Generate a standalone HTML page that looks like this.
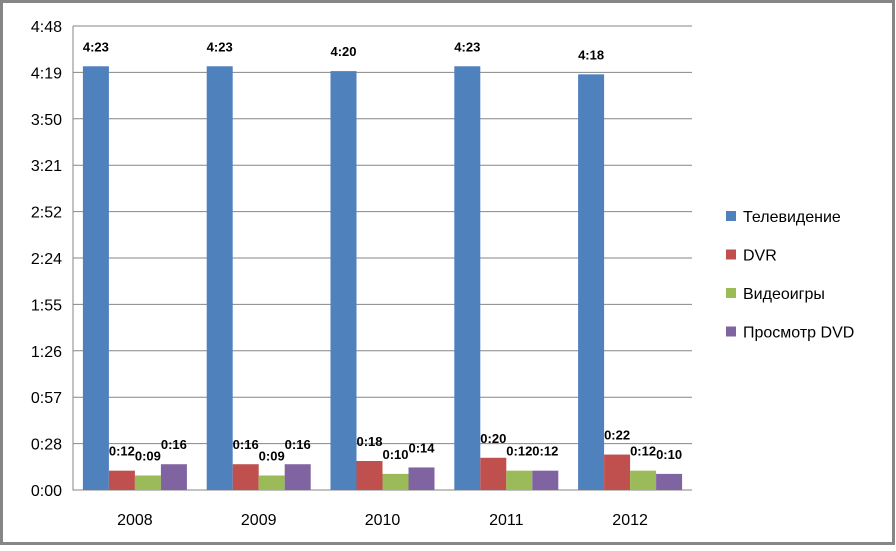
<!DOCTYPE html>
<html><head><meta charset="utf-8"><style>
body{margin:0;background:#fff;}
svg text{font-family:"Liberation Sans","DejaVu Sans",sans-serif;}
</style></head><body>
<svg width="896" height="546">
<rect x="1.5" y="1.5" width="892" height="542" fill="#fff" stroke="#868686" stroke-width="3"/>
<g id="grid"></g><g id="bars"></g><g id="labels"></g>
<g id="legend"></g>
</svg>
<script>
const categories=["2008","2009","2010","2011","2012"];
const seriesNames=["Телевидение","DVR","Видеоигры","Просмотр DVD"];
const tv=[263,263,260,263,258];
const dvr=[12,16,18,20,22];
const games=[9,9,10,12,12];
const dvd=[16,16,14,12,10];
const yTicks=[0,28.8,57.6,86.4,115.2,144,172.8,201.6,230.4,259.2,288];
const yTickLabels=["0:00","0:28","0:57","1:26","1:55","2:24","2:52","3:21","3:50","4:19","4:48"];
const colors=["#4f81bd","#c0504d","#9bbb59","#8064a2"];
const NS="http://www.w3.org/2000/svg";
const x0=73,x1=692,yB=490,yT=26,yMax=288;
const slot=(x1-x0)/categories.length, bw=26;
function y(v){return yB-(v/yMax)*(yB-yT);}
function xBar(i,s){return x0+i*slot+(slot-4*bw)/2+s*bw;}
function fmt(m){return Math.floor(m/60)+":"+String(Math.round(m%60)).padStart(2,"0");}
function mk(t,a,p){const e=document.createElementNS(NS,t);for(const k in a)e.setAttribute(k,a[k]);p.appendChild(e);return e;}
const grid=document.getElementById("grid");
yTicks.forEach((v,i)=>{
 if(i>0){const l=mk("line",{x1:x0,x2:x1,y1:y(v),y2:y(v),stroke:"#868686","stroke-width":1},grid);
 
 }
 const t=mk("text",{x:62,y:y(v)+6,"text-anchor":"end","font-size":16,fill:"#000"},grid);t.textContent=yTickLabels[i];
 
 
});
const ax=mk("path",{d:`M${x0} ${yT} V${yB} H${x1}`,stroke:"#868686",fill:"none"},grid);


categories.forEach((c,i)=>{
 const t=mk("text",{x:x0+i*slot+slot/2,y:525,"text-anchor":"middle","font-size":16},grid);t.textContent=c;
 
 
});
const bars=document.getElementById("bars"),labels=document.getElementById("labels");
[tv,dvr,games,dvd].forEach((arr,s)=>{
 arr.forEach((v,i)=>{
  const r=mk("rect",{x:xBar(i,s),y:y(v),width:bw,height:yB-y(v),fill:colors[s]},bars);
  
  
  const t=mk("text",{x:xBar(i,s)+bw/2,y:y(v)-15,"text-anchor":"middle","font-size":13,"font-weight":"bold"},labels);
  t.textContent=fmt(v);
  
  
 });
});
const lg=document.getElementById("legend");
seriesNames.forEach((n,s)=>{
 const yy=216+s*38.5;
 const r=mk("rect",{x:726,y:yy-5,width:10,height:10,fill:colors[s]},lg);
 
 
 const t=mk("text",{x:743,y:yy+6,"font-size":16},lg);t.textContent=n;
 
 
});
</script>
</body></html>
